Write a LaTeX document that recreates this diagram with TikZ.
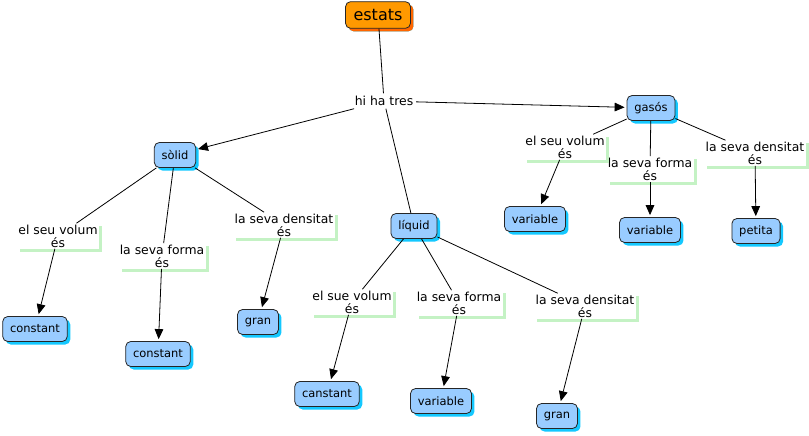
\documentclass[tikz,border=0pt]{standalone}
\usepackage{fontspec}
\setmainfont{DejaVu Sans}
\usetikzlibrary{arrows.meta,shadows}
\definecolor{cblue}{RGB}{153,204,255}
\definecolor{cshadow}{RGB}{20,200,255}
\definecolor{corange}{RGB}{255,153,0}
\definecolor{coshadow}{RGB}{255,102,0}
\definecolor{lgreen}{RGB}{196,242,196}
\newcommand\lsh[1]{%
  \fill[lgreen] ([shift={(0,3)}]#1.north east) rectangle ([shift={(3,3)}]#1.south east);
  \fill[lgreen] ([shift={(3,0)}]#1.south west) rectangle ([shift={(3,3)}]#1.south east);}
\begin{document}
\begin{tikzpicture}[x=0.75pt,y=-0.75pt,
  concept/.style={draw=black!85, line width=0.6pt, rounded corners=3.75pt, fill=cblue,
    minimum height=18.75pt, inner xsep=5.5pt, inner ysep=0pt,
    font=\fontsize{8.6}{10}\selectfont,
    drop shadow={shadow xshift=2.25pt, shadow yshift=-2.25pt, fill=cshadow, opacity=1}},
  topconcept/.style={concept, fill=corange, minimum height=20pt, inner xsep=6pt,
    font=\fontsize{12}{14}\selectfont,
    drop shadow={shadow xshift=2.25pt, shadow yshift=-2.25pt, fill=coshadow, opacity=1}},
  link/.style={inner xsep=0.75pt, inner ysep=1pt, align=center, font=\fontsize{9.3}{9.6}\selectfont},
  conn/.style={line width=0.6pt},
  arr/.style={conn, -{Triangle[length=7.5pt,width=6.5pt]}, shorten >=1.5pt}]
\useasboundingbox (0,0) rectangle (809,435);
% concepts
\node[topconcept] (estats) at (378,15) {estats};
\node[concept] (solid) at (175,155) {sòlid};
\node[concept] (liquid) at (414,226) {líquid};
\node[concept] (gasos) at (651,108) {gasós};
\node[concept] (c1) at (35,329) {constant};
\node[concept] (c2) at (158,354) {constant};
\node[concept] (g1) at (258,322) {gran};
\node[concept] (c3) at (327,394) {canstant};
\node[concept] (v1) at (441,401) {variable};
\node[concept] (g2) at (557,416) {gran};
\node[concept] (v2) at (535,219) {variable};
\node[concept] (v3) at (650,230) {variable};
\node[concept] (p1) at (756,231) {petita};
% linking phrases
\node[link, inner sep=2pt] (hht) at (384,101) {hi ha tres};
\node[link] (sv) at (58,236) {el seu volum\\és};
\node[link] (sf) at (162,256) {la seva forma\\és};
\node[link] (sd) at (284,225) {la seva densitat\\és};
\node[link] (lv) at (352,302) {el sue volum\\és};
\node[link] (lf) at (459,303) {la seva forma\\és};
\node[link] (ld) at (585,306) {la seva densitat\\és};
\node[link] (gv) at (565,147) {el seu volum\\és};
\node[link] (gf) at (650,169) {la seva forma\\és};
\node[link] (gd) at (755,153) {la seva densitat\\és};
\lsh{sv}\lsh{sf}\lsh{sd}\lsh{lv}\lsh{lf}\lsh{ld}\lsh{gv}\lsh{gf}\lsh{gd}
% connectors
\draw[conn] (estats) -- (hht);
\draw[arr] (hht) -- (solid);
\draw[arr] (hht) -- (gasos);
\draw[conn] (hht) -- (liquid);
\draw[conn] (solid) -- (sv);
\draw[arr] (sv) -- (c1);
\draw[conn] (solid) -- (sf);
\draw[arr] (sf) -- (c2);
\draw[conn] (solid) -- (sd);
\draw[arr] (sd) -- (g1);
\draw[conn] (liquid) -- (lv);
\draw[arr] (lv) -- (c3);
\draw[conn] (liquid) -- (lf);
\draw[arr] (lf) -- (v1);
\draw[conn] (liquid) -- (ld);
\draw[arr] (ld) -- (g2);
\draw[conn] (gasos) -- (gv);
\draw[arr] (gv) -- (v2);
\draw[conn] (gasos) -- (gf);
\draw[arr] (gf) -- (v3);
\draw[conn] (gasos) -- (gd);
\draw[arr] (gd) -- (p1);
\end{tikzpicture}
\end{document}
